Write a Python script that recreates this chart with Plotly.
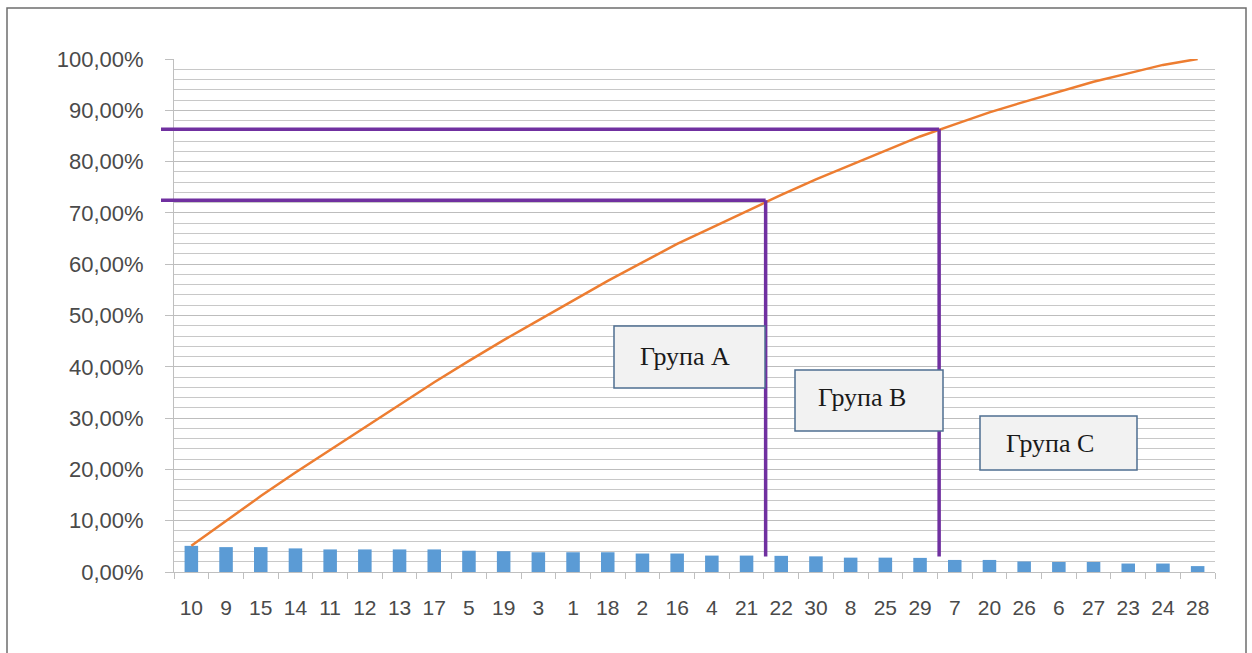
import plotly.graph_objects as go

# ---------------- data ----------------
categories = ["10", "9", "15", "14", "11", "12", "13", "17", "5", "19",
              "3", "1", "18", "2", "16", "4", "21", "22", "30", "8",
              "25", "29", "7", "20", "26", "6", "27", "23", "24", "28"]

share_pct = [5.10, 4.85, 4.85, 4.60, 4.40, 4.40, 4.40, 4.40, 4.15, 4.05,
             3.85, 3.85, 3.85, 3.60, 3.60, 3.20, 3.20, 3.15, 3.05, 2.80,
             2.80, 2.75, 2.35, 2.35, 2.05, 1.95, 1.95, 1.65, 1.65, 1.15]

cumulative_pct = [5.10, 9.95, 14.80, 19.40, 23.80, 28.20, 32.60, 37.00, 41.15, 45.20,
                  49.05, 52.90, 56.75, 60.35, 63.95, 67.15, 70.35, 73.50, 76.55, 79.35,
                  82.15, 84.90, 87.25, 89.60, 91.65, 93.60, 95.55, 97.20, 98.85, 100.00]

group_labels = ["Група A", "Група B", "Група C"]
cutoff_levels_pct = [72.46, 86.3]        # horizontal cut-off levels
cutoff_positions = [16.55, 21.55]        # between "21"/"22" and "29"/"7"
cutoff_bottom_pct = 3.0

# ---------------- styling ----------------
W, H = 1252, 653
L, R, T, B = 174, 37, 59, 81
PW, PH = W - L - R, H - T - B
FONT = "Liberation Sans"
TXT = "#4a4a4a"
GRID = "#bdbdbd"
PURPLE = "#7030A0"


def px_x(p):
    return (p - L) / PW


def px_y(p):
    return (H - B - p) / PH


fig = go.Figure()
fig.add_trace(go.Bar(
    x=categories, y=[v / 100 for v in share_pct],
    marker=dict(color="#5B9BD5", line=dict(width=0)),
    showlegend=False, hoverinfo="skip"))
fig.add_trace(go.Scatter(
    x=categories, y=[v / 100 for v in cumulative_pct], mode="lines",
    line=dict(color="#ED7D31", width=2.5),
    showlegend=False, hoverinfo="skip"))

shapes = []
n = len(categories)
for lvl, pos in zip(cutoff_levels_pct, cutoff_positions):
    shapes.append(dict(type="line", xref="paper", yref="y",
                       x0=px_x(161), x1=(pos + 0.5) / n,
                       y0=lvl / 100, y1=lvl / 100,
                       line=dict(color=PURPLE, width=3.5), layer="above"))
    shapes.append(dict(type="line", xref="x", yref="y",
                       x0=pos, x1=pos, y0=cutoff_bottom_pct / 100, y1=lvl / 100,
                       line=dict(color=PURPLE, width=3.5), layer="above"))

# group boxes (pixel positions)
boxes = [(614, 326, 765, 388), (795, 370, 943, 431), (980, 416, 1137, 470)]
text_centers = [(685, 356), (862, 397), (1050, 443)]
annotations = []
for (x0, y0, x1, y1), (tx, ty), lab in zip(boxes, text_centers, group_labels):
    shapes.append(dict(type="rect", xref="paper", yref="paper",
                       x0=px_x(x0), x1=px_x(x1), y0=px_y(y1), y1=px_y(y0),
                       fillcolor="#F2F2F2", line=dict(color="#4F6F91", width=1.5),
                       layer="above"))
    annotations.append(dict(xref="paper", yref="paper", x=px_x(tx), y=px_y(ty),
                            text=lab, showarrow=False, xanchor="center", yanchor="middle",
                            font=dict(family="Liberation Serif", size=26, color="#1a1a1a")))

# outer frame (bottom edge lies below the visible page)
shapes.append(dict(type="rect", xref="paper", yref="paper",
                   x0=px_x(7), x1=px_x(1246), y0=px_y(670), y1=px_y(8),
                   line=dict(color="#6e6e6e", width=1.5), fillcolor="rgba(0,0,0,0)",
                   layer="below"))

fig.update_layout(
    width=W, height=H,
    margin=dict(l=L, r=R, t=T, b=B, pad=0),
    paper_bgcolor="white", plot_bgcolor="white",
    separators=",.",
    bargap=0.61,
    shapes=shapes, annotations=annotations,
    font=dict(family=FONT, color=TXT),
)
fig.update_xaxes(
    type="category", range=[-0.5, n - 0.5],
    showgrid=False, showline=True, linecolor="#bfbfbf", linewidth=1,
    ticks="outside", tickson="boundaries", ticklen=6, tickcolor="#bfbfbf",
    ticklabelstandoff=17,
    tickfont=dict(family=FONT, size=21, color=TXT),
)
fig.update_yaxes(
    range=[0, 1.0], dtick=0.1, tick0=0, tickformat=".2%",
    showgrid=True, gridcolor=GRID, gridwidth=1,
    minor=dict(dtick=0.02, showgrid=True, gridcolor="#c8c8c8", gridwidth=1),
    showline=True, linecolor="#bfbfbf", linewidth=1,
    ticks="outside", ticklen=8, tickcolor="#bfbfbf",
    ticklabelstandoff=17,
    tickfont=dict(family=FONT, size=22, color=TXT),
    zeroline=False,
)

fig.write_html("out.html", config={"displayModeBar": False},
               post_script="document.body.style.margin='0';document.body.style.overflow='hidden';")
